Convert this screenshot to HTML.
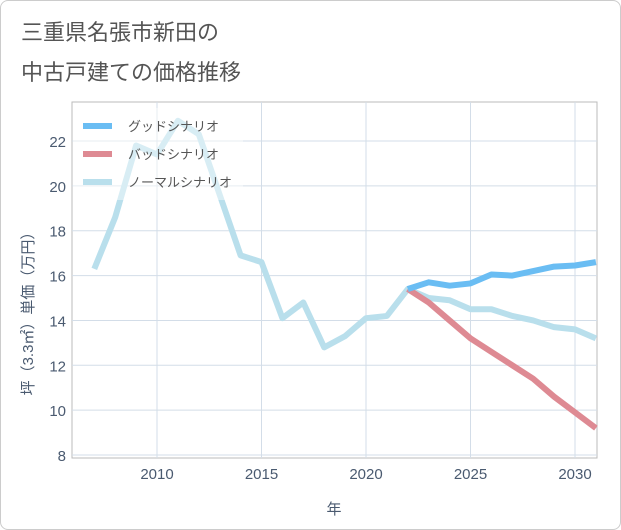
<!DOCTYPE html>
<html><head><meta charset="utf-8"><style>
body{margin:0;background:#fff;}
#card{position:absolute;left:0;top:0;width:619px;height:528px;border:1px solid #ccc;border-radius:8px;background:#fff;}
.t{position:absolute;left:20px;font:22px "Liberation Sans","Noto Sans CJK JP",sans-serif;color:#555;}
svg text{font-family:"Liberation Sans","Noto Sans CJK JP",sans-serif;}
</style></head><body>
<div id="card">
<div class="t" style="top:14px">三重県名張市新田の</div>
<div class="t" style="top:54px">中古戸建ての価格推移</div>
</div>
<svg id="chart" width="621" height="530" style="position:absolute;left:0;top:0"></svg>
<script>
const years=[2007,2008,2009,2010,2011,2012,2013,2014,2015,2016,2017,2018,2019,2020,2021,2022,2023,2024,2025,2026,2027,2028,2029,2030,2031];
const normal=[16.3,18.6,21.8,21.4,22.9,22.3,19.6,16.9,16.6,14.1,14.8,12.8,13.3,14.1,14.2,15.4,15.0,14.9,14.5,14.5,14.2,14.0,13.7,13.6,13.2];
const futureYears=[2022,2023,2024,2025,2026,2027,2028,2029,2030,2031];
const good=[15.4,15.7,15.55,15.65,16.05,16.0,16.2,16.4,16.45,16.6];
const bad=[15.4,14.8,14.0,13.2,12.6,12.0,11.4,10.6,9.9,9.2];
const xTicks=[2010,2015,2020,2025,2030];
const yTicks=[8,10,12,14,16,18,20,22];
const NS='http://www.w3.org/2000/svg';
const svg=document.getElementById('chart');
const L=72,R=597,T=102,B=458;
const x=v=>157+(v-2010)*20.9;
const y=v=>141+(22-v)*22.43;
function mk(tag,attrs,parent){const e=document.createElementNS(NS,tag);for(const k in attrs)e.setAttribute(k,attrs[k]);(parent||svg).appendChild(e);return e;}
const frame=mk('rect',{x:L,y:T,width:R-L,height:B-T,fill:'none',stroke:'#bbb'});


xTicks.forEach(v=>{
 const g=mk('line',{x1:x(v),x2:x(v),y1:T,y2:B,stroke:'#d3dde8'});
 
 
 const t=mk('text',{x:x(v),y:479,'text-anchor':'middle','font-size':15,fill:'#4a5a70'});t.textContent=v;
 
 
});
yTicks.forEach(v=>{
 const g=mk('line',{x1:L,x2:R,y1:y(v),y2:y(v),stroke:'#d3dde8'});
 
 
 const t=mk('text',{x:66,y:y(v)+6,'text-anchor':'end','font-size':15,fill:'#4a5a70'});t.textContent=v;
 
 
});
const xt=mk('text',{x:334,y:514,'text-anchor':'middle','font-size':15,fill:'#4a5a70'});xt.textContent='年';


const yt=mk('text',{x:0,y:0,'text-anchor':'middle','font-size':15,fill:'#4a5a70',transform:'translate(33,310) rotate(-90)'});yt.textContent='坪（3.3㎡）単価（万円）';


function line(xs,vs,color,name){
 const p=mk('polyline',{points:xs.map((v,i)=>x(v)+','+y(vs[i])).join(' '),fill:'none',stroke:color,'stroke-width':6,'stroke-linejoin':'round'});
 
 
}
line(years,normal,'#b9dfec','normal-scenario-line');
line(futureYears,bad,'#de8a93','bad-scenario-line');
line(futureYears,good,'#6abdf3','good-scenario-line');
const lg=mk('rect',{x:73,y:108,width:170,height:92,fill:'rgba(255,255,255,0.45)'});


[['グッドシナリオ','#6abdf3'],['バッドシナリオ','#de8a93'],['ノーマルシナリオ','#b9dfec']].forEach((d,i)=>{
 const yy=126+i*28;
 const s=mk('line',{x1:83,x2:112,y1:yy,y2:yy,stroke:d[1],'stroke-width':6});
 
 
 const t=mk('text',{x:128,y:yy+5,'font-size':13,fill:'#555'});t.textContent=d[0];
 
 
});
</script>
</body></html>
